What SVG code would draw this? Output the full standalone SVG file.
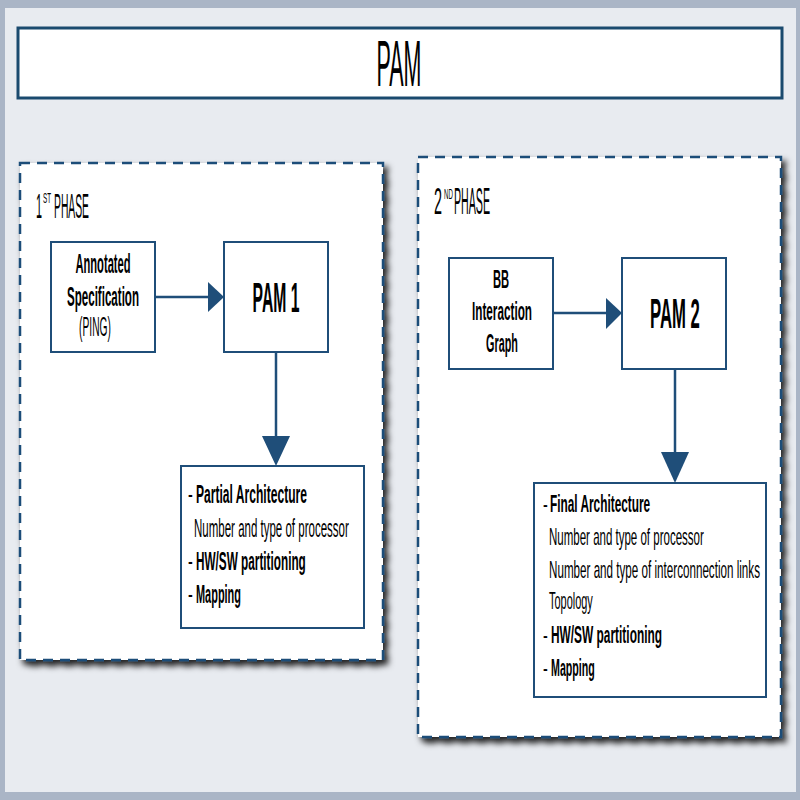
<svg xmlns="http://www.w3.org/2000/svg" width="800" height="800" viewBox="0 0 800 800">
<defs>
<filter id="shadow" x="-5%" y="-5%" width="115%" height="115%">
<feDropShadow dx="4" dy="5" stdDeviation="3" flood-color="#000" flood-opacity="0.85"/>
</filter>
<style>
.t{font-family:"Liberation Sans",Arial,sans-serif;fill:#000}
.b{font-weight:bold}
.n{font-weight:normal}
.box{fill:#fff;stroke:#1f4e79;stroke-width:2}
.phase{fill:#fff;stroke:#1f4e79;stroke-width:2.5;stroke-dasharray:10 7}
.con{stroke:#1f4e79;stroke-width:2.5;fill:none}
.head{fill:#1f4e79}
</style>
</defs>
<rect x="0" y="0" width="800" height="800" fill="#aab5c6"/>
<rect x="5" y="8" width="791" height="784" fill="#e8ebf0"/>

<g id="title">
<rect x="18" y="28" width="764" height="70" fill="#fff" stroke="#1a4a6e" stroke-width="3"/>
<text class="t n" transform="translate(399,86) scale(0.6,1)" font-size="64" text-anchor="middle" textLength="75" lengthAdjust="spacingAndGlyphs">PAM</text>
</g>

<g id="phase1">
<rect class="phase" x="20" y="163" width="363" height="497" filter="url(#shadow)"/>
<text class="t n" transform="translate(36,218) scale(0.3,1)" font-size="36" textLength="20" lengthAdjust="spacingAndGlyphs">1</text>
<text class="t n" transform="translate(43,203) scale(0.42,1)" font-size="15" textLength="19" lengthAdjust="spacingAndGlyphs">ST</text>
<text class="t n" transform="translate(54,218) scale(0.287,1)" font-size="36" textLength="122" lengthAdjust="spacingAndGlyphs">PHASE</text>
</g>

<g id="phase2">
<rect class="phase" x="418" y="157" width="363" height="580" filter="url(#shadow)"/>
<text class="t n" transform="translate(434,214) scale(0.4,1)" font-size="36" textLength="20" lengthAdjust="spacingAndGlyphs">2</text>
<text class="t n" transform="translate(444,199) scale(0.41,1)" font-size="15" textLength="21.6" lengthAdjust="spacingAndGlyphs">ND</text>
<text class="t n" transform="translate(454,214) scale(0.295,1)" font-size="36" textLength="122" lengthAdjust="spacingAndGlyphs">PHASE</text>
</g>

<g id="annotated-spec">
<rect class="box" x="51" y="242" width="104" height="110"/>
<text class="t b" transform="translate(103,273) scale(0.6,1)" font-size="28" text-anchor="middle" textLength="92" lengthAdjust="spacingAndGlyphs">Annotated</text>
<text class="t b" transform="translate(103,306) scale(0.6,1)" font-size="28" text-anchor="middle" textLength="120" lengthAdjust="spacingAndGlyphs">Specification</text>
<text class="t n" transform="translate(95,336) scale(0.6,1)" font-size="28" text-anchor="middle" textLength="53" lengthAdjust="spacingAndGlyphs">(PING)</text>
</g>

<g id="pam1">
<rect class="box" x="224" y="242" width="104" height="110"/>
<text class="t b" transform="translate(276,312) scale(0.6,1)" font-size="43" text-anchor="middle" textLength="78" lengthAdjust="spacingAndGlyphs">PAM 1</text>
</g>

<g id="result1">
<rect class="box" x="181" y="466" width="183" height="162"/>
<text class="t n" transform="translate(188,503) scale(0.6,1)" font-size="25" textLength="8" lengthAdjust="spacingAndGlyphs">-</text>
<text class="t b" transform="translate(196,503) scale(0.6,1)" font-size="25" textLength="185" lengthAdjust="spacingAndGlyphs">Partial Architecture</text>
<text class="t n" transform="translate(194,537) scale(0.6,1)" font-size="25" textLength="258" lengthAdjust="spacingAndGlyphs">Number and type of processor</text>
<text class="t n" transform="translate(188,570) scale(0.6,1)" font-size="25" textLength="8" lengthAdjust="spacingAndGlyphs">-</text>
<text class="t b" transform="translate(196,570) scale(0.6,1)" font-size="25" textLength="183" lengthAdjust="spacingAndGlyphs">HW/SW partitioning</text>
<text class="t n" transform="translate(188,603) scale(0.6,1)" font-size="25" textLength="8" lengthAdjust="spacingAndGlyphs">-</text>
<text class="t b" transform="translate(196,603) scale(0.6,1)" font-size="25" textLength="75" lengthAdjust="spacingAndGlyphs">Mapping</text>
</g>

<g id="bb-graph">
<rect class="box" x="449" y="258" width="104" height="111"/>
<text class="t b" transform="translate(501,288) scale(0.6,1)" font-size="25" text-anchor="middle" textLength="27" lengthAdjust="spacingAndGlyphs">BB</text>
<text class="t b" transform="translate(502,320) scale(0.6,1)" font-size="25" text-anchor="middle" textLength="100" lengthAdjust="spacingAndGlyphs">Interaction</text>
<text class="t b" transform="translate(502,352) scale(0.6,1)" font-size="25" text-anchor="middle" textLength="53" lengthAdjust="spacingAndGlyphs">Graph</text>
</g>

<g id="pam2">
<rect class="box" x="622" y="258" width="104" height="111"/>
<text class="t b" transform="translate(675,328) scale(0.6,1)" font-size="43" text-anchor="middle" textLength="83" lengthAdjust="spacingAndGlyphs">PAM 2</text>
</g>

<g id="result2">
<rect class="box" x="534" y="483" width="232" height="214"/>
<text class="t n" transform="translate(543,512) scale(0.6,1)" font-size="24" textLength="8" lengthAdjust="spacingAndGlyphs">-</text>
<text class="t b" transform="translate(550,512) scale(0.6,1)" font-size="24" textLength="167" lengthAdjust="spacingAndGlyphs">Final Architecture</text>
<text class="t n" transform="translate(549,545) scale(0.6,1)" font-size="24" textLength="258" lengthAdjust="spacingAndGlyphs">Number and type of processor</text>
<text class="t n" transform="translate(549,578) scale(0.485,1)" font-size="24" textLength="435" lengthAdjust="spacingAndGlyphs">Number and type of interconnection links</text>
<text class="t n" transform="translate(549,609) scale(0.6,1)" font-size="24" textLength="73" lengthAdjust="spacingAndGlyphs">Topology</text>
<text class="t n" transform="translate(543,643) scale(0.6,1)" font-size="24" textLength="8" lengthAdjust="spacingAndGlyphs">-</text>
<text class="t b" transform="translate(551,643) scale(0.6,1)" font-size="24" textLength="185" lengthAdjust="spacingAndGlyphs">HW/SW partitioning</text>
<text class="t n" transform="translate(543,676) scale(0.6,1)" font-size="24" textLength="8" lengthAdjust="spacingAndGlyphs">-</text>
<text class="t b" transform="translate(551,676) scale(0.6,1)" font-size="24" textLength="73" lengthAdjust="spacingAndGlyphs">Mapping</text>
</g>

<g id="connectors">
<line class="con" x1="155" y1="297" x2="209" y2="297"/>
<polygon class="head" points="208,282 224,297 208,312"/>
<line class="con" x1="276" y1="352" x2="276" y2="437"/>
<polygon class="head" points="262,436 290,436 276,466"/>
<line class="con" x1="553" y1="313" x2="607" y2="313"/>
<polygon class="head" points="606,298 622,313 606,329"/>
<line class="con" x1="675" y1="369" x2="675" y2="453"/>
<polygon class="head" points="661,452 689,452 675,483"/>
</g>
</svg>
